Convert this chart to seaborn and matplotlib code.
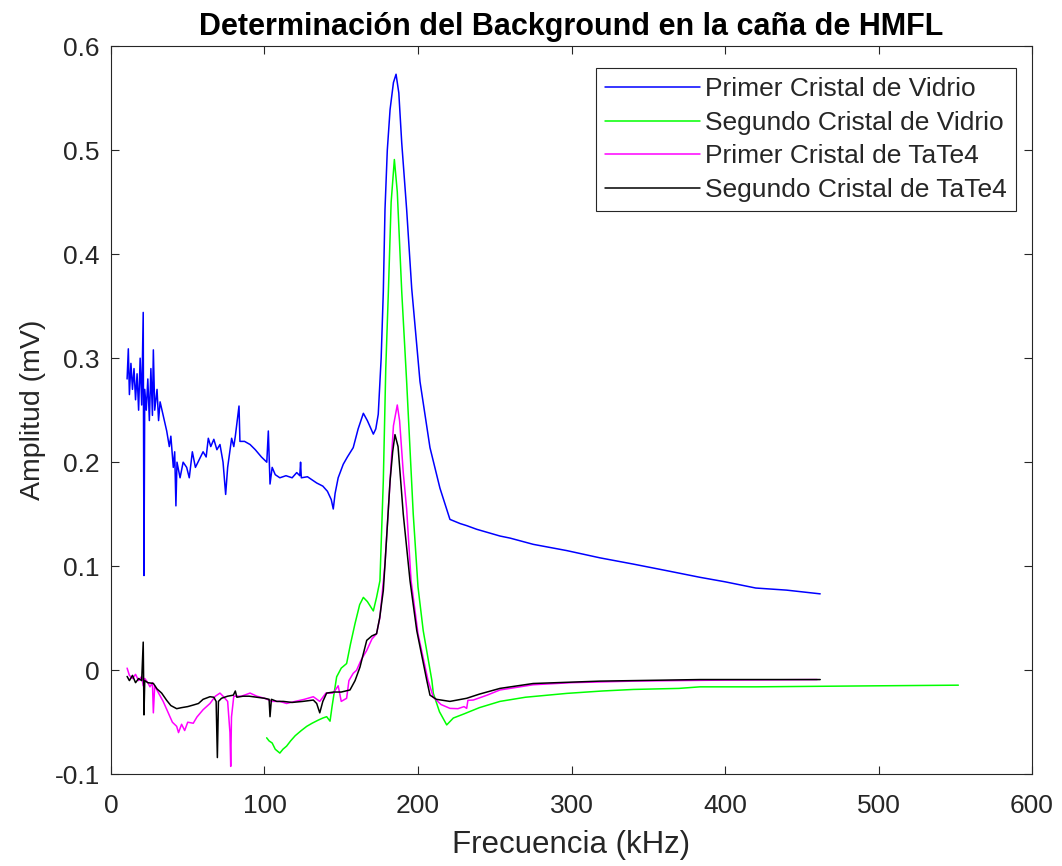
import numpy as np
import pandas as pd
import matplotlib
matplotlib.use("Agg")
import matplotlib.pyplot as plt
import matplotlib.ticker as mticker
import seaborn as sns


# Primer Cristal de Vidrio
vidrio1_f = [
	10.5, 11.3, 12, 13, 14, 15, 16, 17, 18, 19, 20, 21, 21.5, 22, 23, 24, 25, 26, 27, 27.6,
	28.5, 30, 31, 32, 34, 36.3, 38, 39, 40.6, 41.5, 42.3, 43, 45, 47, 49.3, 51, 53, 55, 58,
	60, 62, 63.4, 65, 67, 69, 71, 73, 74.7, 76, 78.6, 80, 81, 83.4, 84, 87, 90.6, 94, 98,
	101.5, 102.5, 103.6, 105, 107, 110, 114, 118, 121, 123, 123.5, 124, 128, 131, 134, 138,
	141, 143.5, 144.8, 146, 148, 151.3, 154, 157.8, 161, 164.4, 167, 170.9, 172.5, 174.1,
	176, 177.4, 178.5, 180, 181.8, 184, 185.7, 187.5, 189.4, 192.6, 195.9, 201.3, 207.8,
	214.3, 220.8, 227.4, 231.7, 238.2, 253.4, 260, 275.1, 296.9, 318.6, 340.3, 362, 383.7,
	400, 420, 440, 462
]
vidrio1_a = [
	0.28, 0.309, 0.265, 0.295, 0.27, 0.29, 0.26, 0.285, 0.25, 0.30, 0.255, 0.344, 0.091, 0.27,
	0.25, 0.28, 0.24, 0.29, 0.245, 0.308, 0.25, 0.27, 0.24, 0.258, 0.245, 0.23, 0.215, 0.225,
	0.195, 0.21, 0.158, 0.20, 0.185, 0.20, 0.195, 0.185, 0.21, 0.195, 0.204, 0.21, 0.205,
	0.223, 0.215, 0.222, 0.212, 0.217, 0.20, 0.169, 0.195, 0.223, 0.215, 0.225, 0.254, 0.22,
	0.22, 0.217, 0.212, 0.205, 0.20, 0.23, 0.179, 0.195, 0.188, 0.185, 0.187, 0.185, 0.19,
	0.187, 0.20, 0.185, 0.186, 0.183, 0.18, 0.177, 0.172, 0.164, 0.155, 0.17, 0.185, 0.198,
	0.205, 0.214, 0.232, 0.247, 0.24, 0.227, 0.232, 0.246, 0.30, 0.364, 0.443, 0.50, 0.539,
	0.565, 0.573, 0.555, 0.507, 0.443, 0.367, 0.2775, 0.214, 0.175, 0.145, 0.141, 0.139,
	0.1355, 0.129, 0.127, 0.121, 0.115, 0.108, 0.102, 0.0957, 0.0893, 0.085, 0.079, 0.077,
	0.0734
]

# Segundo Cristal de Vidrio
vidrio2_f = [
	101.4, 103, 105, 107, 110, 112, 114.4, 117, 120, 124, 127.5, 131, 135, 138, 140.5, 142.7,
	144, 147, 150, 153.5, 156, 159, 162, 164.4, 167, 170.9, 173, 175.2, 177.4, 179, 180.7,
	182.5, 184.6, 186.5, 189.4, 192.6, 196.9, 200, 203.4, 209, 210, 214, 218.7, 223, 230, 240,
	253.4, 270, 296.9, 320, 340.3, 370, 383.7, 420, 460, 500, 552
]
vidrio2_a = [
	-0.065, -0.068, -0.07, -0.076, -0.0797, -0.076, -0.073, -0.068, -0.063, -0.058, -0.054,
	-0.051, -0.048, -0.046, -0.0447, -0.049, -0.035, -0.0064, 0.002, 0.0064, 0.025, 0.045,
	0.063, 0.07, 0.066, 0.057, 0.07, 0.086, 0.182, 0.29, 0.364, 0.45, 0.491, 0.46, 0.364,
	0.2775, 0.15, 0.08, 0.038, -0.0096, -0.0223, -0.04, -0.0526, -0.046, -0.042, -0.036,
	-0.030, -0.026, -0.0223, -0.020, -0.0185, -0.0175, -0.016, -0.016, -0.0155, -0.015,
	-0.0144
]

# Primer Cristal de TaTe4
tate1_f = [
	10.5, 12, 14, 16, 18, 20, 21, 22, 24, 25.4, 27, 27.6, 28.5, 31, 34, 37, 40, 42.8, 44, 46,
	48, 50, 53.6, 56, 60, 64.5, 68, 71, 73, 76, 77.5, 78, 78.5, 80, 85, 90.6, 95, 100, 105,
	110, 114.4, 120, 126, 131.8, 136, 140, 144.8, 148, 150, 153.5, 155, 157.8, 160, 163,
	166.6, 170, 173, 175.2, 178.5, 181.8, 184, 186.5, 188, 190.4, 192.6, 195.5, 200, 206.5,
	210, 215, 220.8, 226, 230, 231.7, 232.5, 236, 245, 253.4, 275, 300, 340, 400, 460
]
tate1_a = [
	0.002, -0.005, -0.008, -0.004, -0.01, -0.006, -0.015, -0.008, -0.012, -0.016, -0.012,
	-0.041, -0.015, -0.022, -0.03, -0.04, -0.05, -0.054, -0.06, -0.052, -0.058, -0.05, -0.051,
	-0.045, -0.038, -0.032, -0.025, -0.022, -0.025, -0.03, -0.06, -0.0925, -0.045, -0.025,
	-0.025, -0.022, -0.025, -0.027, -0.03, -0.03, -0.032, -0.03, -0.028, -0.0255, -0.03,
	-0.022, -0.022, -0.015, -0.03, -0.027, -0.01, -0.003, 0.0, 0.01, 0.019, 0.03, 0.035,
	0.051, 0.102, 0.182, 0.235, 0.255, 0.24, 0.19, 0.155, 0.086, 0.035, -0.0096, -0.026,
	-0.033, -0.0367, -0.037, -0.035, -0.0367, -0.029, -0.0287, -0.024, -0.019, -0.014,
	-0.012, -0.0105, -0.0095, -0.009
]

# Segundo Cristal de TaTe4
tate2_f = [
	10.5, 12, 14, 16, 18, 20, 21, 21.5, 22, 24, 27.6, 30, 33, 36.3, 39, 42.8, 46, 50, 53.6,
	57, 60, 64.5, 67, 68.5, 69.3, 70, 72, 76, 79.7, 81, 82, 86, 90, 95, 100, 103, 103.6,
	104.5, 108, 112.2, 118, 125, 131.8, 134, 136, 138, 140.5, 145, 150, 155.7, 159, 162.2,
	166.6, 170, 173, 175, 177.4, 178.5, 181.8, 183.5, 185, 187, 190.4, 194.8, 199.2, 205.7,
	207.8, 212, 220.8, 231.7, 240, 253.4, 275, 318.6, 383.7, 462
]
tate2_a = [
	-0.006, -0.01, -0.005, -0.012, -0.008, -0.01, 0.027, -0.043, -0.01, -0.012, -0.0127,
	-0.018, -0.022, -0.029, -0.034, -0.037, -0.036, -0.035, -0.0335, -0.032, -0.028, -0.0255,
	-0.026, -0.03, -0.084, -0.03, -0.027, -0.025, -0.024, -0.02, -0.026, -0.025, -0.025,
	-0.026, -0.027, -0.028, -0.0447, -0.028, -0.03, -0.030, -0.031, -0.03, -0.0287, -0.032,
	-0.041, -0.03, -0.022, -0.021, -0.021, -0.019, -0.01, 0.003, 0.0287, 0.033, 0.035, 0.05,
	0.0766, 0.102, 0.182, 0.21, 0.2265, 0.215, 0.150, 0.086, 0.038, -0.0096, -0.024, -0.028,
	-0.030, -0.027, -0.023, -0.0175, -0.0128, -0.0105, -0.009, -0.009
]

series_names = [
	"Primer Cristal de Vidrio",
	"Segundo Cristal de Vidrio",
	"Primer Cristal de TaTe4",
	"Segundo Cristal de TaTe4",
]
series_colors = ["#0000ff", "#00ff00", "#ff00ff", "#000000"]

x_ticks = [0, 100, 200, 300, 400, 500, 600]
y_ticks = [-0.1, 0, 0.1, 0.2, 0.3, 0.4, 0.5, 0.6]


def build_frame() -> pd.DataFrame:
	parts = []
	pairs = [(vidrio1_f, vidrio1_a), (vidrio2_f, vidrio2_a), (tate1_f, tate1_a), (tate2_f, tate2_a)]
	for name, (f, a) in zip(series_names, pairs):
		parts.append(pd.DataFrame({"freq": f, "amp": a, "serie": name}))
	return pd.concat(parts, ignore_index=True)


def main():
	sns.set_style("ticks")
	plt.rcParams["font.family"] = ["Liberation Sans", "DejaVu Sans"]
	dark = "#262626"

	df = build_frame()
	fig = plt.figure(figsize=(10.62, 8.66), dpi=100)
	ax = fig.add_axes([0.1045, 0.106, 0.8673, 0.8407])

	sns.lineplot(
		data=df,
		x="freq",
		y="amp",
		hue="serie",
		hue_order=series_names,
		palette=dict(zip(series_names, series_colors)),
		estimator=None,
		sort=False,
		linewidth=1.1,
		ax=ax
	)

	ax.set_xlim(0, 600)
	ax.set_ylim(-0.1, 0.6)
	ax.set_xticks(x_ticks)
	ax.set_yticks(y_ticks)
	ax.yaxis.set_major_formatter(mticker.FuncFormatter(lambda v, p: f"{v:g}"))
	ax.tick_params(direction="in", length=5.5, width=0.8, top=True, right=True,
		labelsize=19, colors=dark)
	ax.tick_params(axis="x", pad=14)
	ax.tick_params(axis="y", pad=8)
	for side in ["left", "right", "top", "bottom"]:
		ax.spines[side].set_visible(True)
		ax.spines[side].set_color(dark)
		ax.spines[side].set_linewidth(0.8)

	ax.set_xlabel("Frecuencia (kHz)", fontsize=22.5, color=dark, labelpad=9)
	ax.set_ylabel("Amplitud (mV)", fontsize=20.5, color=dark, labelpad=6)
	ax.set_title("Determinación del Background en la caña de HMFL",
		fontsize=22, fontweight="bold", color="black", pad=8)

	handles, labels = ax.get_legend_handles_labels()
	leg = ax.legend(
		handles,
		labels,
		loc="upper right",
		bbox_to_anchor=(0.9826, 0.9698),
		borderaxespad=0,
		borderpad=0.35,
		fontsize=19,
		handlelength=3.6,
		handletextpad=0.2,
		labelspacing=0.36,
		fancybox=False,
		framealpha=1,
		edgecolor=dark
	)
	leg.get_frame().set_linewidth(0.8)
	for t in leg.get_texts():
		t.set_color(dark)

	fig.savefig("out.png", dpi=100, facecolor="white")
	plt.close(fig)


if __name__ == "__main__":
	main()
